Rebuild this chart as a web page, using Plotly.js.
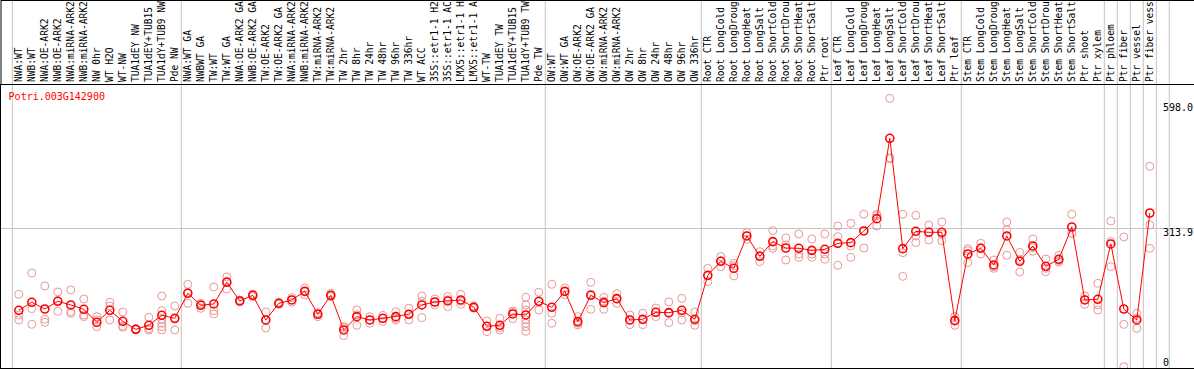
<!DOCTYPE html>
<html>
<head>
<meta charset="utf-8">
<script src="https://cdn.plot.ly/plotly-3.0.1.min.js"></script>
<style>
  html, body { margin: 0; padding: 0; background: #ffffff; }
  #chart { width: 1194px; height: 370px; }
</style>
</head>
<body>
<div id="chart"></div>
<script>
// ---------------- data ----------------
const geneId = 'Potri.003G142900';

const categories = [
  'NWA:WT','NWB:WT','NWA:OE-ARK2','NWB:OE-ARK2','NWA:miRNA-ARK2','NWB:miRNA-ARK2','NW 0hr','WT H2O','WT-NW',
  'TUA1dEY NW','TUA1dEY+TUB15','TUA1dY+TUB9 NW','Pde NW',
  'NWA:WT GA','NWBWT GA','TW:WT','TW:WT GA','NWA:OE-ARK2 GA','NWB:OE-ARK2 GA','TW:OE-ARK2','TW:OE-ARK2 GA',
  'NWA:miRNA-ARK2','NWB:miRNA-ARK2','TW:miRNA-ARK2','TW:miRNA-ARK2','TW 2hr','TW 8hr','TW 24hr','TW 48hr','TW 96hr','TW 336hr',
  'WT ACC','35S::etr1-1 H2','35S::etr1-1 AC','LMX5::etr1-1 H','LMX5::etr1-1 A','WT-TW','TUA1dEY TW','TUA1dEY+TUB15','TUA1dY+TUB9 TW','Pde TW',
  'OW:WT','OW:WT GA','OW:OE-ARK2','OW:OE-ARK2 GA','OW:miRNA-ARK2','OW:miRNA-ARK2','OW 2hr','OW 8hr','OW 24hr','OW 48hr','OW 96hr','OW 336hr',
  'Root CTR','Root LongCold','Root LongDroug','Root LongHeat','Root LongSalt','Root ShortCold','Root ShortDrou','Root ShortHeat','Root ShortSalt','Ptr root',
  'Leaf CTR','Leaf LongCold','Leaf LongDroug','Leaf LongHeat','Leaf LongSalt','Leaf ShortCold','Leaf ShortDrou','Leaf ShortHeat','Leaf ShortSalt','Ptr leaf',
  'Stem CTR','Stem LongCold','Stem LongDroug','Stem LongHeat','Stem LongSalt','Stem ShortCold','Stem ShortDrou','Stem ShortHeat','Stem ShortSalt','Ptr shoot','Ptr xylem',
  'Ptr phloem','Ptr fiber','Ptr vessel','Ptr fiber vess'
];

// number of samples in each block separated by grey lines
const groupSizes = [13, 28, 12, 10, 10, 11, 1, 1, 1, 1, 1];

// mean expression per sample
const means = [
  134.8,152.3,137.7,154.5,146.5,137.0,108.6,134.8,110.8,93.3,102.1,123.9,117.3,
  172.0,145.8,148.7,196.0,155.2,167.6,113.7,150.1,157.4,176.3,126.1,167.6,91.9,121.0,113.7,117.3,121.0,126.1,
  146.5,153.0,155.2,157.4,141.4,99.9,102.1,126.8,124.6,154.5,
  141.4,176.3,110.1,167.6,151.6,160.3,113.7,115.2,130.5,129.7,134.8,115.2,
  211.3,241.9,226.6,297.3,252.8,284.9,271.0,270.3,265.9,268.1,
  281.2,282.7,308.2,335.1,510.7,269.6,307.5,305.3,305.3,112.2,
  257.9,270.3,233.9,297.3,241.9,275.4,231.0,246.3,316.9,157.4,158.9,
  279.8,137.7,113.7,347.5
];

// individual replicate values per sample
const replicates = [
  [169.8,124.6,113.7],[216.4,138.5,104.2],[188.0,115.2,108.6],[174.9,156.0,132.6],[179.3,131.9,128.3],
  [159.6,124.6,121.0],[121.0,113.7,99.1],[152.3,144.3,113.7],[131.2,100.6,97.7],[94.8,93.2,91.9],
  [119.5,94.8,91.9],[166.1,134.1,115.2,106.4,99.1,91.9],[144.3,115.7,91.9],
  [191.6,174.3,150.1],[150.1,148.1,139.2],[185.8,134.1,126.8],[207.7,198.9,181.4],[157.4,155.2,153.0],
  [170.5,167.6,164.7],[131.2,113.7,96.2],[152.3,150.1,147.9],[162.5,157.4,152.3],[183.6,177.1,168.3],
  [129.7,127.6,121.0],[172.0,166.1,164.7],[99.1,97.1,79.5],[135.6,125.3,102.1],[121.0,113.7,106.4],
  [123.9,117.2,110.8],[131.9,117.4,113.7],[139.2,125.4,113.7],[166.1,154.6,118.8],[159.6,152.9,146.5],
  [164.7,158.1,142.8],[169.8,154.5,147.9],[144.3,140.7,139.2],[111.5,100.0,88.2],[117.3,97.1,91.9],
  [133.4,130.4,116.6],[163.2,146.5,135.6,113.7,106.4,99.1,88.9],[174.2,153.7,135.6],
  [191.6,128.3,106.4],[183.6,176.2,169.1],[121.0,106.4,102.9],[196.0,169.8,137.0],[163.2,154.6,137.0],
  [171.2,159.6,150.1],[124.6,113.0,103.5],[128.3,113.8,103.5],[139.9,130.6,121.0],[153.0,128.2,107.9],
  [161.0,129.7,113.7],[131.2,112.3,102.1],
  [226.6,209.8,197.5],[252.1,243.4,230.2],[237.5,232.4,209.9],[304.5,297.4,290.0],[263.0,254.2,241.2],
  [308.9,275.4,270.4],[292.9,277.6,244.8],[301.6,257.9,250.6],[290.7,257.9,250.6],[301.6,257.9,246.3],
  [319.1,295.8,233.2],[324.9,275.4,250.6],[344.6,309.0,271.0],[344.6,341.6,319.1],[598.0,468.4,465.7],
  [344.6,260.8,209.1],[342.4,297.4,282.7],[321.3,306.1,288.5],[327.9,300.9,287.1],[121.0,113.5,102.1],
  [269.6,265.1,239.0],[281.2,271.8,257.9],[244.8,230.3,226.6],[327.9,310.4,255.0],[261.6,245.5,218.6],
  [290.7,271.7,263.8],[247.0,226.7,219.3],[255.0,243.4,240.5],[344.6,303.1,303.0],[166.1,158.2,147.9],
  [193.8,146.5,135.6],
  [330.0,284.9,230.2],[295.1,104.2,11.7],[128.3,117.3,95.5],[449.5,321.3,270.3]
];

// value-axis labels
const yLabelVals = [598.0, 313.9, 0];
const yLabelText = ['598.0', '313.9', '0'];

// ---------------- build ----------------
const idx = categories.map((_, i) => i);
const repX = [], repY = [];
replicates.forEach((arr, i) => arr.forEach(v => { repX.push(i); repY.push(v); }));

const FONT = 'DejaVu Sans Mono, Liberation Mono, monospace';
const GRID = '#c4c4c4';

// group separators (grey) through header and plot
const shapes = [];
let cum = 0;
const bounds = [-0.5];
groupSizes.forEach(s => { cum += s; bounds.push(cum - 0.5); });
bounds.forEach(b => shapes.push({
  type: 'line', xref: 'x', yref: 'paper', x0: b, x1: b, y0: 0, y1: 1.31,
  line: { color: GRID, width: 1 }, layer: 'below'
}));
// header frame (top and left)
shapes.push({ type: 'line', xref: 'paper', yref: 'paper', x0: 0, x1: 1, y0: 1.2986, y1: 1.2986,
  line: { color: '#000', width: 1 } });
shapes.push({ type: 'line', xref: 'paper', yref: 'paper', x0: 0, x1: 0, y0: 1, y1: 1.3,
  line: { color: '#000', width: 1 } });

const annotations = [
  { text: yLabelText[0], xref: 'paper', x: 0.9724, xanchor: 'left', yref: 'y', y: yLabelVals[0],
    yanchor: 'middle', yshift: -8.9, showarrow: false, font: { family: FONT, size: 10, color: '#000' } },
  { text: yLabelText[1], xref: 'paper', x: 0.9724, xanchor: 'left', yref: 'y', y: yLabelVals[1],
    yanchor: 'middle', yshift: -3.9, showarrow: false, font: { family: FONT, size: 10, color: '#000' } },
  { text: yLabelText[2], xref: 'paper', x: 0.9724, xanchor: 'left', yref: 'y domain', y: 0,
    yanchor: 'middle', yshift: 5.7, showarrow: false, font: { family: FONT, size: 10, color: '#000' } }
];

const traces = [
  {
    x: repX, y: repY, type: 'scatter', mode: 'markers', hoverinfo: 'skip',
    marker: { symbol: 'circle-open', size: 8, color: '#eb9696', line: { width: 1 } }
  },
  {
    x: idx, y: means, type: 'scatter', mode: 'lines+markers', hoverinfo: 'skip',
    line: { color: '#ff0000', width: 1 },
    marker: { symbol: 'circle-open', size: 8, color: '#ff0000', line: { width: 1.6 } }
  }
];

const layout = {
  width: 1194, height: 370,
  margin: { l: 1, r: 0, t: 85, b: 2, pad: 0 },
  paper_bgcolor: '#ffffff', plot_bgcolor: '#ffffff',
  showlegend: false,
  font: { family: FONT, size: 10, color: '#000' },
  title: {
    text: geneId, font: { family: FONT, size: 10, color: '#ff0000' },
    xref: 'container', x: 0.0072, xanchor: 'left',
    yref: 'container', y: 1 - 96.7 / 370, yanchor: 'middle'
  },
  xaxis: {
    type: 'linear', range: [-1.369, 90.40], side: 'top',
    tickmode: 'array', tickvals: idx, ticktext: categories, tickangle: -90,
    ticks: '', showgrid: false, zeroline: false,
    showline: true, mirror: true, linecolor: '#000', linewidth: 1,
    automargin: false, tickfont: { family: FONT, size: 9.6, color: '#000' }
  },
  yaxis: {
    range: [8.74, 627.2], tickmode: 'array', tickvals: [yLabelVals[1]],
    showticklabels: false, ticks: '', showgrid: true, gridcolor: GRID, gridwidth: 1,
    zeroline: false, showline: true, linecolor: '#000', linewidth: 1, mirror: false,
    automargin: false
  },
  shapes: shapes,
  annotations: annotations
};

Plotly.newPlot('chart', traces, layout, { staticPlot: true, displayModeBar: false });
</script>
</body>
</html>
